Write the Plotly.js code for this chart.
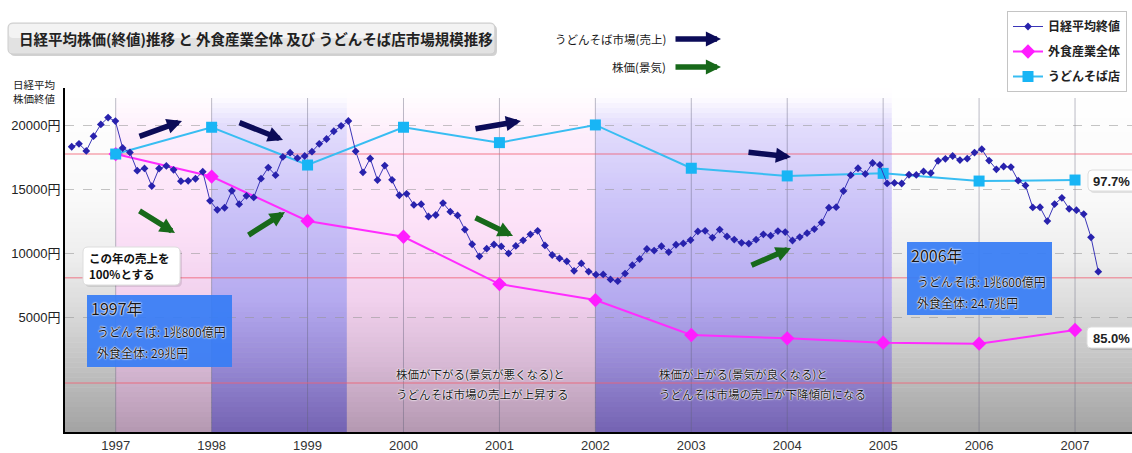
<!DOCTYPE html>
<html><head><meta charset="utf-8">
<script src="https://cdn.plot.ly/plotly-3.0.1.min.js"></script>
<style>html,body{margin:0;padding:0;background:#fff;}#chart{width:1132px;height:453px;}</style>
</head><body><div id="chart"></div>
<script>
// ---------- data ----------
const years = [1997, 1998, 1999, 2000, 2001, 2002, 2003, 2004, 2005, 2006, 2007];
const yearLabels = ['1997','1998','1999','2000','2001','2002','2003','2004','2005','2006','2007'];
// うどんそば店 (drawn on the stock-price scale as in the picture)
const udonSoba = [17760, 19850, 16900, 19850, 18650, 20030, 16650, 16050, 16250, 15650, 15730];
// 外食産業全体 (drawn on the stock-price scale as in the picture)
const gaishoku = [17760, 16000, 12530, 11300, 7610, 6360, 3630, 3370, 3030, 2950, 4020];
// 日経平均終値, monthly points (Jan 1997 ... Oct 2008)
const nikkei = [
 18330,18557,18003,19151,20068,20604,20331,18229,17888,16459,16636,15259,
 16628,16832,16527,15641,15671,15830,16379,14108,13406,13565,14883,13842,
 14499,14368,15837,16702,16112,17530,17862,17437,17606,17942,18558,18934,
 19540,19960,20337,17974,16332,17411,15727,16861,15747,14540,14649,13786,
 13844,12884,12999,13934,13262,12969,11861,10714,9775,10367,10697,10543,
 9998,10588,11025,11493,11764,10622,9878,9620,9383,8640,9216,8579,
 8340,8363,7973,7831,8425,9083,9563,10344,10219,10560,10101,10677,
 10784,11042,11715,11762,11236,11859,11326,11082,10824,10771,11069,11489,
 11388,11741,11669,11009,11277,11584,11900,12414,13574,13607,14872,16111,
 16650,16205,17060,16906,15468,15505,15457,16141,16128,16399,16274,17226,
 17383,17604,17288,17400,17876,18138,17249,16569,16786,16738,15681,15308,
 13592,13604,12526,13850,14339,13481,13377,13073,11260,8577];
const yTicks = [5000, 10000, 15000, 20000];
const yTickLabels = ['5000円', '10000円', '15000円', '20000円'];
const refLevels = [17760, 8100, -120];
const bandFrom = [1997, 1998, 1999.41, 2002];
const bandTo   = [1998, 1999.41, 2002, 2005.09];
const bandKind = ['pink', 'purple', 'pink', 'purple'];
const seriesNames = ['日経平均終値', '外食産業全体', 'うどんそば店'];

// ---------- layout helpers ----------
const W = 1132, L = 65, T = 88, B = 432;
const X = px => (px - L) / (W - L);
const Y = py => (B - py) / (B - T);
const JP = 'Noto Sans CJK JP, sans-serif';
const LAT = 'Liberation Sans, Noto Sans CJK JP, sans-serif';

function hex(c){c=c.replace('#','');return [0,2,4].map(i=>parseInt(c.substr(i,2),16));}
function colAt(stops, py){
  for(let i=0;i<stops.length-1;i++){
    const a=stops[i], b=stops[i+1];
    if(py>=a[0] && py<=b[0]){
      const t=(py-a[0])/(b[0]-a[0]); const ca=hex(a[1]), cb=hex(b[1]);
      return 'rgb('+ca.map((v,k)=>Math.round(v+(cb[k]-v)*t)).join(',')+')';
    }
  }
  return stops[stops.length-1][1];
}
const grayStops = [[88,'#ffffff'],[200,'#f9f9f9'],[260,'#ededed'],[330,'#d2d2d2'],[432,'#a3a3a3']];
const pinkStops = [[88,'#ffffff'],[104,'#fffafe'],[135,'#fdedfb'],[220,'#fde2f8'],[300,'#f1d1ed'],[360,'#d9bad6'],[432,'#b498b1']];
const purpleStops = [[88,'#ffffff'],[98,'#fdfcff'],[125,'#e3ddfc'],[200,'#cdc5f9'],[300,'#b5aaef'],[360,'#998bd6'],[432,'#7463b2']];

const shapes = [];
function band(x0, x1, xref, stops){
  const N = 69, h = (B - T) / N;
  for(let i=0;i<N;i++){
    const p0 = T + i*h, p1 = Math.min(B, p0 + h + 0.6);
    shapes.push({type:'rect', xref:xref, yref:'paper', x0:x0, x1:x1, y0:Y(p1), y1:Y(p0),
      fillcolor: colAt(stops, p0 + h/2), line:{width:0}, layer:'below'});
  }
}
band(0, 1, 'paper', grayStops);
bandKind.forEach((k,i)=>band(bandFrom[i], bandTo[i], 'x', k==='pink'?pinkStops:purpleStops));
years.forEach(yr=>shapes.push({type:'line', xref:'x', yref:'paper', x0:yr, x1:yr, y0:0, y1:Y(98),
  line:{color:'rgba(95,95,120,0.42)', width:1}, layer:'below'}));
refLevels.forEach(v=>shapes.push({type:'line', xref:'paper', yref:'y', x0:0, x1:1, y0:v, y1:v,
  line:{color:'rgba(240,95,115,0.55)', width:1.5}, layer:'below'}));

function rr(x0,y0,x1,y1,r){
  const P=(a,b)=>X(a)+','+Y(b);
  return 'M'+P(x0+r,y0)+' L'+P(x1-r,y0)+' Q'+P(x1,y0)+' '+P(x1,y0+r)+' L'+P(x1,y1-r)+' Q'+P(x1,y1)+' '+P(x1-r,y1)+
    ' L'+P(x0+r,y1)+' Q'+P(x0,y1)+' '+P(x0,y1-r)+' L'+P(x0,y0+r)+' Q'+P(x0,y0)+' '+P(x0+r,y0)+' Z';
}
function boxShape(x0,y0,x1,y1,r,fill,line,shadow){
  if(shadow) shapes.push({type:'path', xref:'paper', yref:'paper', path:rr(x0+2,y0+2,x1+2,y1+2,r), fillcolor:shadow, line:{width:0}, layer:'above'});
  shapes.push({type:'path', xref:'paper', yref:'paper', path:rr(x0,y0,x1,y1,r), fillcolor:fill, line:line?{color:line,width:1}:{width:0}, layer:'above'});
}
// title box
boxShape(8,23,495,54,5,'#e2e2e2','#cdcdcd','rgba(0,0,0,0.18)');
shapes.push({type:'path', xref:'paper', yref:'paper', path:rr(9,24,494,38,4), fillcolor:'#f3f3f3', line:{width:0}, layer:'above'});
// note boxes
boxShape(83,247,180,285,5,'#ffffff','#dddddd','rgba(0,0,0,0.10)');
boxShape(1088,170,1136,191,4,'#ffffff','#dddddd','rgba(0,0,0,0.10)');
boxShape(1087,327,1136,348,4,'#ffffff','#dddddd','rgba(0,0,0,0.10)');
// blue info boxes
shapes.push({type:'rect', xref:'paper', yref:'paper', x0:X(87), x1:X(232), y0:Y(367), y1:Y(295), fillcolor:'rgba(55,125,245,0.93)', line:{width:0}, layer:'above'});
shapes.push({type:'rect', xref:'paper', yref:'paper', x0:X(907), x1:X(1052), y0:Y(315), y1:Y(242), fillcolor:'rgba(55,125,245,0.93)', line:{width:0}, layer:'above'});

const halo = '0 0 2px #fff, 0 0 2px #fff, 0 0 1px #fff';
function txt(s, px, py, size, extra){
  return Object.assign({text:s, x:X(px), y:Y(py), xref:'paper', yref:'paper', xanchor:'left', yanchor:'middle',
    showarrow:false, borderpad:0, font:{family:JP, size:size, color:'#1a1a1a'}}, extra||{});
}
function arrow(tx,ty,hx,hy,color){
  return {text:'', x:X(hx), y:Y(hy), xref:'paper', yref:'paper', ax:tx-hx, ay:ty-hy, axref:'pixel', ayref:'pixel',
    showarrow:true, arrowhead:2, arrowsize:0.55, arrowwidth:5.5, arrowcolor:color, standoff:0};
}
const NAVY = '#0b0b58', GREEN = '#17691a';
const annotations = [
  txt('日経平均株価(終値)推移 と 外食産業全体 及び うどんそば店市場規模推移', 18, 39, 14.5, {font:{family:JP,size:14.5,color:'#222',weight:'bold'}}),
  txt('うどんそば市場(売上)', 667, 39, 11.5, {xanchor:'right'}),
  txt('株価(景気)', 667, 67, 11.5, {xanchor:'right'}),
  arrow(674,39,721,39,NAVY), arrow(674,67,721,67,GREEN),
  txt('日経平均', 34, 84, 10.5, {xanchor:'center', font:{family:JP,size:10.5,color:'#222'}}),
  txt('株価終値', 34, 98, 10.5, {xanchor:'center', font:{family:JP,size:10.5,color:'#222'}}),
  arrow(138,137,182,121,NAVY), arrow(238,122,283,140,NAVY), arrow(474,129,521,121,NAVY), arrow(747,152,791,157,NAVY),
  arrow(138,210,175,233,GREEN), arrow(247,236,285,212,GREEN), arrow(474,217,513,236,GREEN), arrow(750,266,791,248,GREEN),
  txt('この年の売上を', 88, 258, 11.5, {font:{family:JP,size:11.5,color:'#111',weight:'bold'}}),
  txt('100%とする', 88, 273.5, 11.5, {font:{family:JP,size:11.5,color:'#111',weight:'bold'}}),
  txt('97.7%', 1111, 181, 13, {xanchor:'center', font:{family:LAT,size:13,color:'#222',weight:'bold'}}),
  txt('85.0%', 1111, 338, 13, {xanchor:'center', font:{family:LAT,size:13,color:'#222',weight:'bold'}}),
  txt('1997年', 90, 308, 16, {font:{family:JP,size:16,color:'#161616',shadow:halo}}),
  txt('うどんそば: 1兆800億円', 96, 331, 12, {font:{family:JP,size:12,color:'#161616',shadow:halo}}),
  txt('外食全体: 29兆円', 96, 352, 12, {font:{family:JP,size:12,color:'#161616',shadow:halo}}),
  txt('2006年', 910, 255, 16, {font:{family:JP,size:16,color:'#161616',shadow:halo}}),
  txt('うどんそば: 1兆600億円', 916, 281, 12, {font:{family:JP,size:12,color:'#161616',shadow:halo}}),
  txt('外食全体: 24.7兆円', 916, 302, 12, {font:{family:JP,size:12,color:'#161616',shadow:halo}}),
  txt('株価が下がる(景気が悪くなる)と', 395, 374, 11.5, {font:{family:JP,size:11.5,color:'#1a1a1a',shadow:halo}}),
  txt('うどんそば市場の売上が上昇する', 395, 394, 11.5, {font:{family:JP,size:11.5,color:'#1a1a1a',shadow:halo}}),
  txt('株価が上がる(景気が良くなる)と', 658, 374, 11.5, {font:{family:JP,size:11.5,color:'#1a1a1a',shadow:halo}}),
  txt('うどんそば市場の売上が下降傾向になる', 658, 394, 11.5, {font:{family:JP,size:11.5,color:'#1a1a1a',shadow:halo}})
];

const traces = [
  {type:'scatter', mode:'lines+markers', name:seriesNames[0], y:nikkei, xaxis:'x2', yaxis:'y', legendgroup:'a',
   line:{color:'#3b36b8', width:1}, marker:{symbol:'diamond', size:6, color:'#2822ad'}},
  {type:'scatter', mode:'lines+markers', name:seriesNames[1], x:years, y:gaishoku, legendgroup:'b',
   line:{color:'#ff2cff', width:2}, marker:{symbol:'diamond', size:11, color:'#ff1cff'}},
  {type:'scatter', mode:'lines+markers', name:seriesNames[2], x:years, y:udonSoba, legendgroup:'c',
   line:{color:'#38bdf2', width:2}, marker:{symbol:'square', size:11, color:'#18b5f5'}}
];

const layout = {
  width:1132, height:453, margin:{l:L, r:0, t:T, b:453-B, pad:0},
  paper_bgcolor:'#ffffff', plot_bgcolor:'#ffffff', font:{family:LAT, color:'#222'},
  showlegend:true, hovermode:false,
  legend:{x:X(1007), y:Y(11), xanchor:'left', yanchor:'top', bgcolor:'#ffffff', bordercolor:'#c4c4c4', borderwidth:1,
    traceorder:'grouped', tracegroupgap:6, font:{family:JP, size:12, color:'#222', weight:'bold'}},
  xaxis:{range:[1996.4715, 2007.594], tickvals:years, ticktext:yearLabels, showgrid:false, zeroline:false,
    showline:true, linecolor:'#000', linewidth:2, ticks:'', tickfont:{family:LAT, size:13, color:'#333'}, fixedrange:true},
  xaxis2:{overlaying:'x', range:[-0.920, 145.63], visible:false, fixedrange:true},
  yaxis:{range:[-3943, 22915], tickvals:yTicks, ticktext:yTickLabels, showgrid:true, gridcolor:'rgba(150,150,150,0.55)',
    griddash:'dash', gridwidth:1, zeroline:false, showline:true, linecolor:'#000', linewidth:2, ticks:'',
    tickfont:{family:LAT, size:13, color:'#222'}, fixedrange:true},
  shapes:shapes, annotations:annotations
};
Plotly.newPlot('chart', traces, layout, {displayModeBar:false, staticPlot:true});
</script></body></html>
